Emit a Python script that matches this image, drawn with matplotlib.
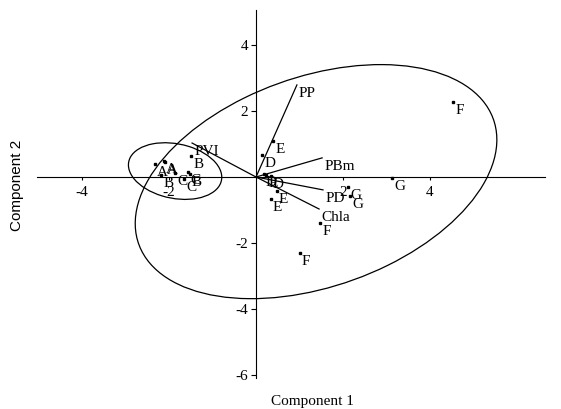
import matplotlib.pyplot as plt
from matplotlib.patches import Ellipse

# 字体: 图中文字为 Times 风格
plt.rcParams['font.family'] = ['Liberation Serif', 'DejaVu Serif']
plt.rcParams['font.size'] = 11
plt.rcParams['axes.unicode_minus'] = False  # 负号用连字符

# 样本得分 (Component 1, Component 2)
point_labels = ['F', 'G', 'G', 'G', 'F', 'F',
                'E', 'D', 'D', 'E', 'D', 'E', 'E',
                'A', 'A', 'A', 'B', 'C', 'B', 'C', 'C', 'B']
point_x = [4.53, 3.13, 2.11, 2.16, 1.47, 1.01,
           0.39, 0.14, 0.18, 0.23, 0.34, 0.48, 0.34,
           -2.32, -2.11, -2.09, -1.49, -1.56, -1.52, -1.66, -1.86, -2.18]
point_y = [2.27, -0.03, -0.30, -0.58, -1.39, -2.30,
           1.09, 0.67, 0.09, 0.06, 0.03, -0.42, -0.67,
           0.39, 0.48, 0.45, 0.64, 0.15, 0.09, -0.06, 0.12, 0.06]

# 变量载荷向量
var_labels = ['PP', 'PBm', 'PD', 'Chla', 'PVI']
var_x = [0.94, 1.52, 1.54, 1.45, -1.47]
var_y = [2.79, 0.58, -0.39, -0.97, 1.03]

# 椭圆 (中心, 宽, 高, 角度)
ell_cx = [1.38, -1.86]
ell_cy = [-0.14, 0.18]
ell_w = [9.1, 2.22]
ell_h = [6.05, 1.62]
ell_angle = [33, -22]

fig = plt.figure(figsize=(5.61, 4.09), dpi=100)
ax = fig.add_axes([0, 0, 1, 1])
ax.set_xlim(-5.885, 7.011)
ax.set_ylim(-7.03, 5.364)
ax.patch.set_visible(False)

# 坐标轴交于原点
ax.spines['left'].set_position(('data', 0))
ax.spines['bottom'].set_position(('data', 0))
ax.spines['top'].set_visible(False)
ax.spines['right'].set_visible(False)
ax.spines['left'].set_bounds(-6.09, 5.06)
ax.spines['bottom'].set_bounds(-5.03, 6.64)
for s in ['left', 'bottom']:
    ax.spines[s].set_linewidth(0.8)

ax.set_xticks([-4, -2, 2, 4])
ax.set_yticks([-6, -4, -2, 2, 4])
ax.tick_params(axis='x', direction='out', length=2.5, width=0.8, pad=4)
ax.tick_params(axis='y', direction='out', length=3.5, width=0.8, pad=2)

for cx, cy, w, h, a in zip(ell_cx, ell_cy, ell_w, ell_h, ell_angle):
    ax.add_patch(Ellipse((cx, cy), w, h, angle=a, fill=False,
                         edgecolor='black', linewidth=0.9))

for vx, vy, lab in zip(var_x, var_y, var_labels):
    ax.plot([0, vx], [0, vy], color='black', linewidth=0.9)
    ax.annotate(lab, (vx, vy), xytext=(1.5, -1.5), textcoords='offset points',
                ha='left', va='top')

ax.plot(point_x, point_y, 's', color='black', markersize=1.8)
for px, py, lab in zip(point_x, point_y, point_labels):
    ax.annotate(lab, (px, py), xytext=(1.5, -1.5), textcoords='offset points',
                ha='left', va='top')

fig.text(312 / 561, 1 - 401 / 409, 'Component 1', ha='center', va='center')
fig.text(17 / 561, 1 - 185 / 409, 'Component 2', ha='center', va='center',
         rotation=90, family=['Liberation Sans', 'DejaVu Sans'])

plt.savefig('out.png', dpi=100)
